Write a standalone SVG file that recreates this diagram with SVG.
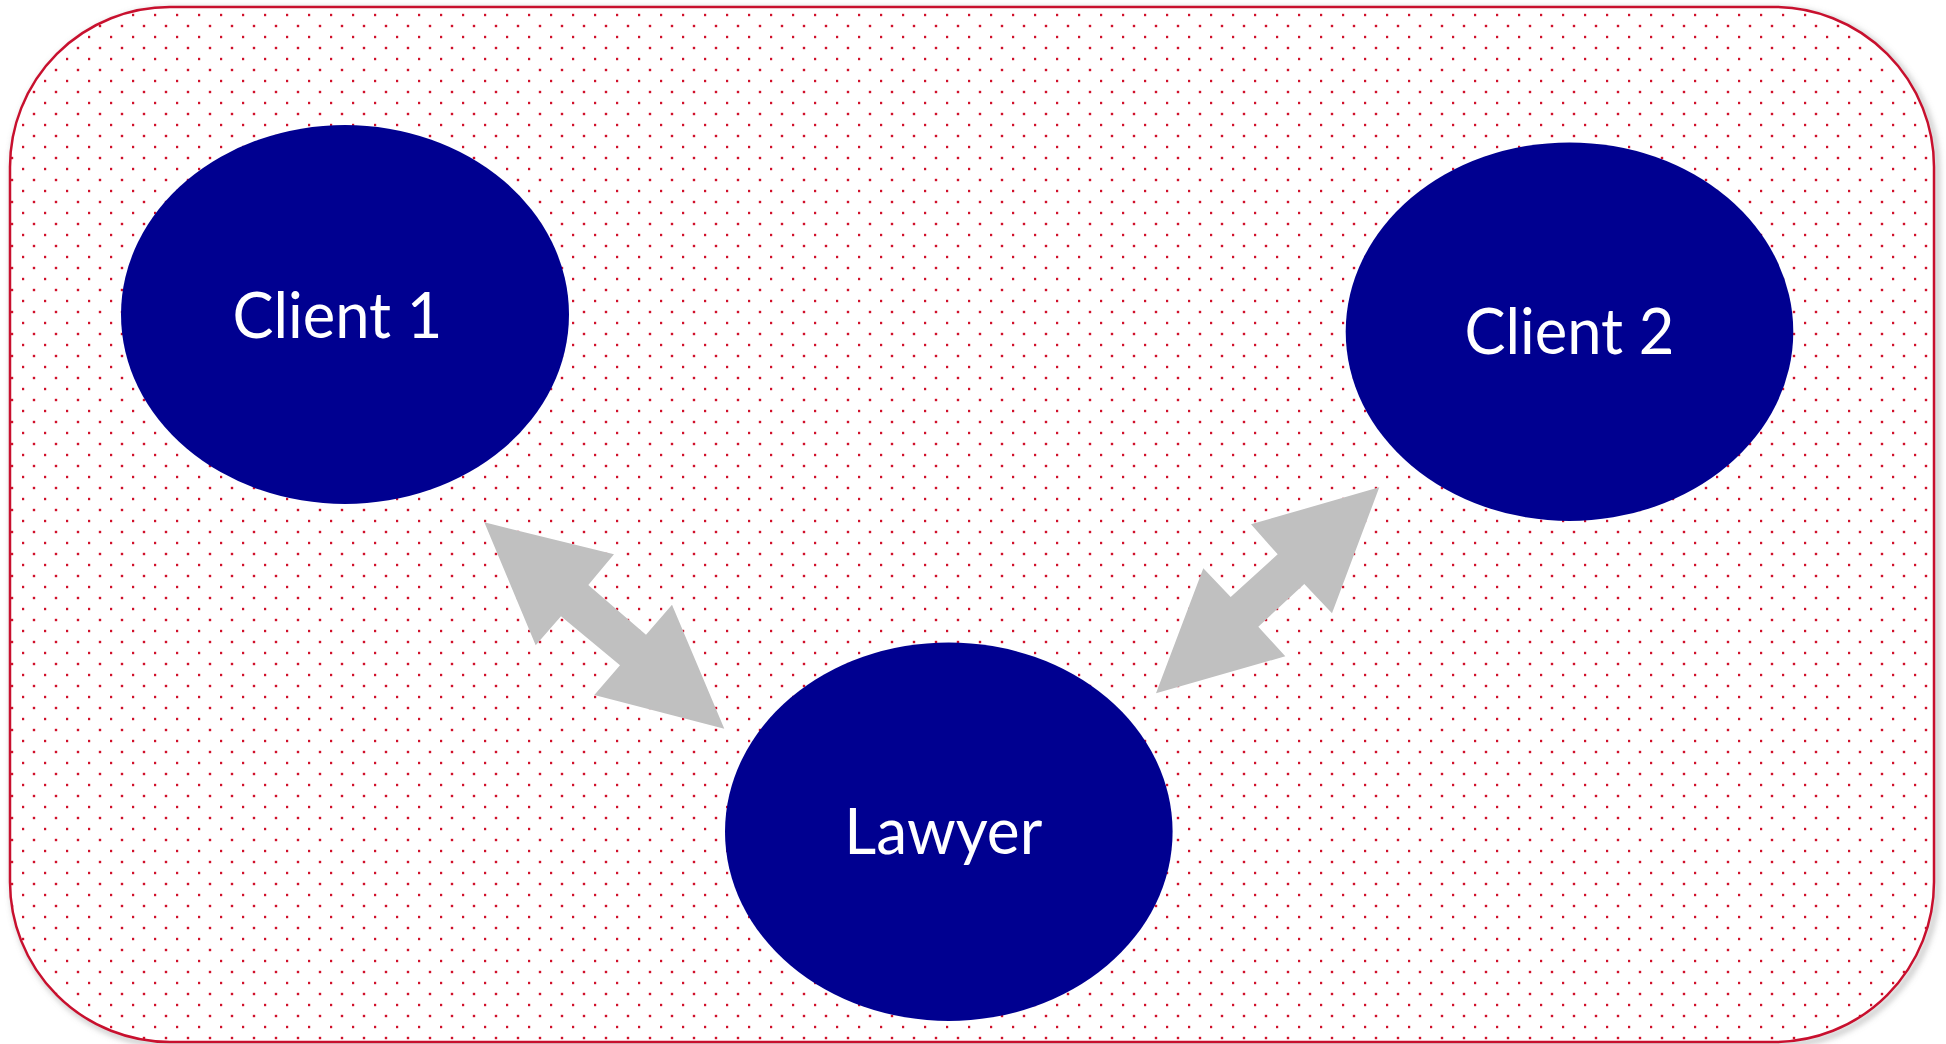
<svg xmlns="http://www.w3.org/2000/svg" width="1946" height="1044" viewBox="0 0 1946 1044">
  <style>
    .node { fill: #000090; }
    .label { font-family: Lato, "Open Sans", "Liberation Sans", sans-serif; font-size: 64px; fill: #ffffff; text-anchor: middle; }
    .arrow { fill: #C0C0C0; }
  </style>
  <defs>
    <pattern id="dots" patternUnits="userSpaceOnUse" width="22" height="22">
      <rect x="-0.2" y="13.8" width="2.4" height="2.4" fill="#D0102A"/>
      <rect x="10.8" y="2.8" width="2.4" height="2.4" fill="#D0102A"/>
    </pattern>
    <filter id="shadow" x="-5%" y="-5%" width="110%" height="110%">
      <feGaussianBlur stdDeviation="3"/>
    </filter>
  </defs>
  <rect width="1946" height="1044" fill="#ffffff"/>
  <g id="frame">
    <rect x="13" y="10" width="1924" height="1035" rx="160" ry="160" fill="none" stroke="#808080" stroke-opacity="0.6" stroke-width="4" filter="url(#shadow)"/>
    <rect x="10" y="7" width="1924" height="1035" rx="160" ry="160" fill="#ffffff"/>
    <rect x="10" y="7" width="1924" height="1035" rx="160" ry="160" fill="url(#dots)" stroke="#C8102E" stroke-width="2.5"/>
  </g>
  <g id="connectors">
    <polygon class="arrow" points="484.3,522.3 614,554.3 588.3,585 646,634.7 672,604.7 724.3,728.7 594.3,695 620,665.3 561,616.3 535.7,645.3"/>
    <polygon class="arrow" points="1379.3,487.3 1332,613.3 1304.3,584 1258.3,626.7 1285.3,656.3 1156,693.3 1203.3,568.3 1230.7,597 1277.7,554.3 1251,524.3"/>
  </g>
  <g id="client1">
    <ellipse class="node" cx="345" cy="314.5" rx="224" ry="189.5"/>
    <text class="label" x="337.5" y="337.7" textLength="210" lengthAdjust="spacingAndGlyphs">Client 1</text>
  </g>
  <g id="client2">
    <ellipse class="node" cx="1569.5" cy="331.7" rx="223.8" ry="189.3"/>
    <text class="label" x="1569.5" y="354.3" textLength="210" lengthAdjust="spacingAndGlyphs">Client 2</text>
  </g>
  <g id="lawyer">
    <ellipse class="node" cx="948.8" cy="831.7" rx="223.8" ry="189.3"/>
    <text class="label" x="943.3" y="854.3" textLength="198" lengthAdjust="spacingAndGlyphs">Lawyer</text>
  </g>
</svg>
